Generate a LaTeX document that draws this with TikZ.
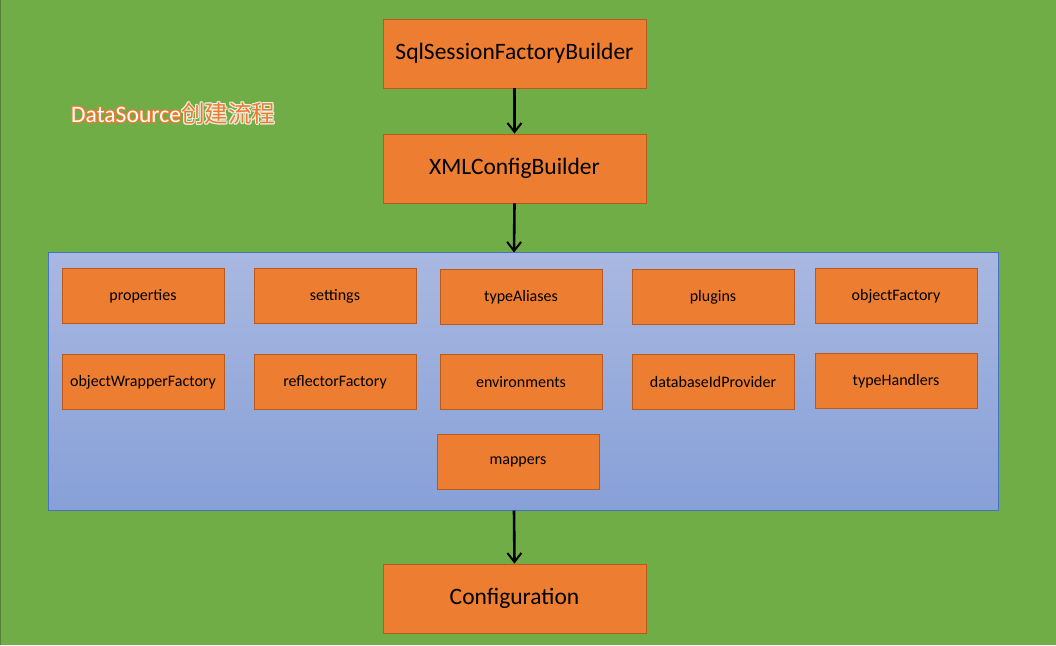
\documentclass[tikz,border=0pt]{standalone}
\usepackage{fontspec}
\setmainfont{Carlito}
\newfontfamily\cjk{Noto Sans CJK SC}
\usetikzlibrary{arrows.meta}
\definecolor{bggreen}{HTML}{70AD47}
\definecolor{boxorange}{HTML}{ED7D31}
\definecolor{titleorange}{HTML}{F07A30}
\definecolor{boxedge}{HTML}{B85A1E}
\definecolor{contblue}{HTML}{4472C4}
\definecolor{conttop}{HTML}{A9B8E1}
\definecolor{contbot}{HTML}{87A0D7}
\newcommand{\mytitle}[2]{\textcolor{#1}{DataSource}\textcolor{#2}{\cjk 创建流程}}
\tikzset{
  x=1pt, y=-1pt,
  bigbox/.style={draw=boxedge, line width=0.8pt, fill=boxorange, minimum width=263pt, minimum height=69pt, inner sep=0pt, font=\fontsize{23.5}{27}\selectfont, text=black},
  smallbox/.style={draw=boxedge, line width=0.8pt, fill=boxorange, minimum width=162pt, minimum height=55pt, inner sep=0pt, font=\fontsize{16}{19}\selectfont, text=black},
  flow/.style={-{Straight Barb[length=9pt,width=14pt,line width=2pt]}, line width=2.6pt, black},
  titlefont/.style={anchor=west, inner sep=0pt, font=\fontsize{23.6}{27}\selectfont},
}
\begin{document}
\begin{tikzpicture}
\fill[bggreen] (0,0) rectangle (1056,644);
\draw[line width=1pt, color=bggreen!75!black] (0.5,0) -- (0.5,644);
\useasboundingbox (0,0) rectangle (1056,644);

\node[bigbox] (ssfb) at (514.5,53) {SqlSessionFactoryBuilder};
\node[bigbox] (xcb) at (514.5,168) {XMLConfigBuilder};

\shade[top color=conttop, bottom color=contbot] (48,252) rectangle (998,510);
\draw[contblue, line width=0.8pt] (48,252) rectangle (998,510);
\coordinate (conttopc) at (514,252);
\coordinate (contbotc) at (514,510);

\node[smallbox] (properties) at (143,295.5) {properties};
\node[smallbox] (settings) at (335,295.5) {settings};
\node[smallbox] (typeAliases) at (521,296.5) {typeAliases};
\node[smallbox] (plugins) at (713,296.5) {plugins};
\node[smallbox] (objectFactory) at (896,295.5) {objectFactory};

\node[smallbox] (owf) at (143,381.5) {objectWrapperFactory};
\node[smallbox] (reflectorFactory) at (335,381.5) {reflectorFactory};
\node[smallbox] (environments) at (521,381.5) {environments};
\node[smallbox] (dbidp) at (713,381.5) {databaseIdProvider};
\node[smallbox] (typeHandlers) at (896,380.5) {typeHandlers};

\node[smallbox] (mappers) at (518,461.5) {mappers};

\node[bigbox] (configuration) at (514.5,598) {Configuration};

\draw[flow] (ssfb.south) -- (xcb.north);
\draw[flow] (xcb.south) -- (conttopc);
\draw[flow] (contbotc) -- (configuration.north);

\foreach \dx/\dy in {1/0,-1/0,0/1,0/-1,0.8/0.8,-0.8/0.8,0.8/-0.8,-0.8/-0.8}
  \node[titlefont] (titleglow) at (71+\dx,113+\dy) {\mytitle{titleorange}{white!85!bggreen}};
\node[titlefont] (title) at (71,113) {\mytitle{white}{titleorange}};
\end{tikzpicture}
\end{document}
